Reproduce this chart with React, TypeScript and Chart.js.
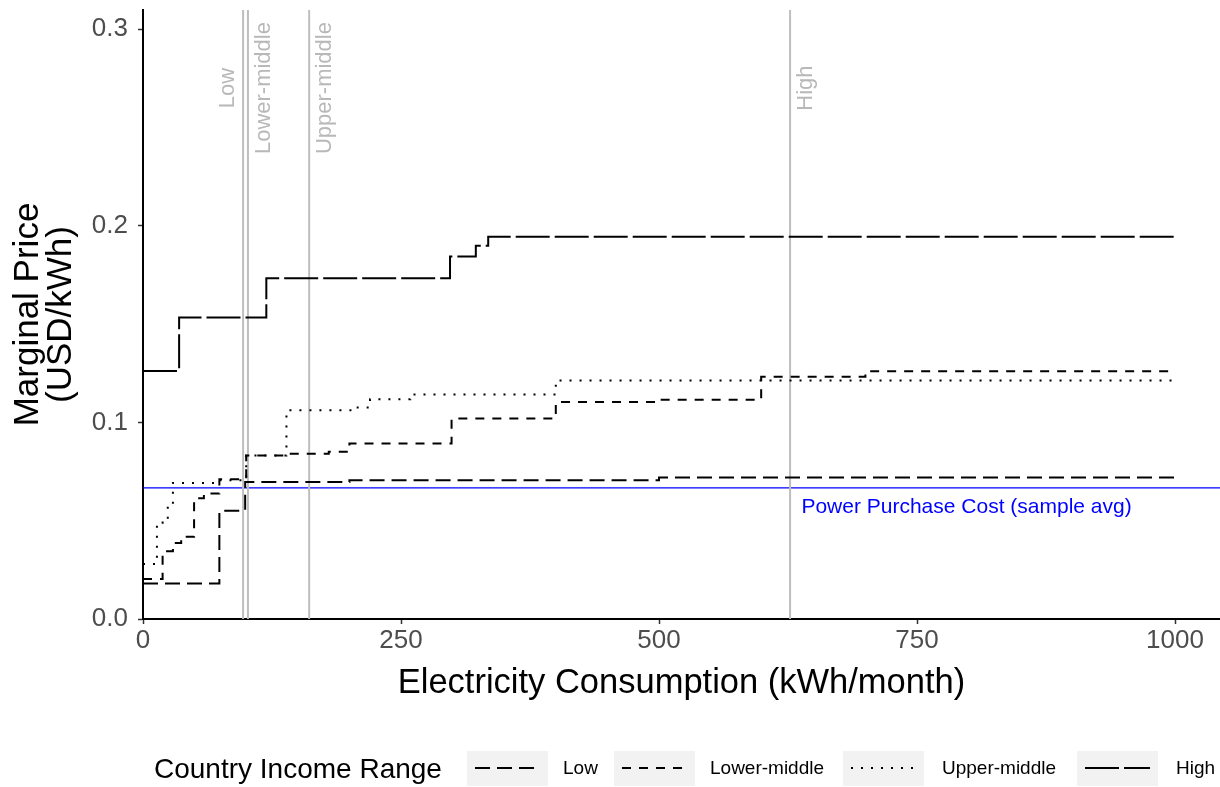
import React, { useEffect, useRef } from "react";
import { Chart, registerables } from "chart.js";

Chart.register(...registerables);

// ---- Data ----
const lowX = [0, 74, 99, 200, 500, 1000];
const lowY = [0.018, 0.055, 0.0697, 0.0706, 0.0719, 0.0719];

const lowerMidX = [0, 19, 29, 37, 49.5, 59, 74, 100, 140, 180, 200, 299, 400, 500, 599, 700, 1000];
const lowerMidY = [0.0203, 0.0345, 0.0387, 0.0418, 0.0614, 0.0638, 0.0711, 0.0832, 0.084, 0.085, 0.0892, 0.102, 0.1103, 0.1115, 0.1232, 0.126, 0.126];

const upperMidX = [0, 13.5, 19, 24, 29, 74, 100, 139, 207, 220, 259, 400, 1000];
const upperMidY = [0.028, 0.049, 0.0515, 0.0585, 0.0692, 0.0705, 0.0832, 0.1061, 0.1075, 0.1117, 0.1142, 0.1213, 0.1213];

const highX = [0, 35, 119.5, 297.5, 322.5, 334.5, 1000];
const highY = [0.1261, 0.1533, 0.1733, 0.1844, 0.1898, 0.1944, 0.1944];

const seriesLabels = ["Low", "Lower-middle", "Upper-middle", "High"];

const thresholdX = [97, 101.7, 161, 627];
const thresholdLabels = ["Low", "Lower-middle", "Upper-middle", "High"];
const thresholdLabelY = 0.27;

const ppcAvg = 0.0667;
const ppcLabel = "Power Purchase Cost (sample avg)";

const xTicks = [0, 250, 500, 750, 1000];
const yTicks = [0, 0.1, 0.2, 0.3];

const X_MIN = 0;
const X_MAX = 1043.6;
const Y_MIN = 0;
const Y_MAX = 0.3097;

const FONT = "'Liberation Sans', Arial, Helvetica, sans-serif";

export default function App() {
  const ref = useRef<HTMLCanvasElement | null>(null);

  useEffect(() => {
    document.body.style.margin = "0";
    const canvas = ref.current;
    if (!canvas) return;

    const toPts = (xs: number[], ys: number[]) => xs.map((x, i) => ({ x, y: ys[i] }));
    const dashes = [[15, 7], [9, 8], [2, 8], [34, 5]];
    const seriesData = [toPts(lowX, lowY), toPts(lowerMidX, lowerMidY), toPts(upperMidX, upperMidY), toPts(highX, highY)];

    const datasets: any[] = seriesData.map((d, i) => ({
      label: seriesLabels[i],
      data: d,
      borderColor: "#000000",
      borderWidth: 2,
      borderDash: dashes[i],
      borderCapStyle: "butt",
      stepped: "before",
      pointRadius: 0,
      fill: false,
    }));
    thresholdX.forEach((t) => {
      datasets.push({
        label: "thr",
        data: [{ x: t, y: Y_MIN }, { x: t, y: Y_MAX }],
        borderColor: "#bebebe",
        borderWidth: 2,
        pointRadius: 0,
        fill: false,
      });
    });
    datasets.push({
      label: "ppc",
      data: [{ x: X_MIN, y: ppcAvg }, { x: X_MAX, y: ppcAvg }],
      borderColor: "#0000ff",
      borderWidth: 1.3,
      pointRadius: 0,
      fill: false,
    });

    const overlay = {
      id: "overlay",
      afterDraw(chart: any) {
        const ctx = chart.ctx as CanvasRenderingContext2D;
        const xs = chart.scales.x;
        const ys = chart.scales.y;
        const area = chart.chartArea;
        ctx.save();

        // threshold labels
        ctx.fillStyle = "#b8b8b8";
        ctx.font = `22px ${FONT}`;
        ctx.textAlign = "center";
        ctx.textBaseline = "middle";
        thresholdX.forEach((t, i) => {
          const px = xs.getPixelForValue(t) + (i === 0 ? -15 : 16);
          const py = ys.getPixelForValue(thresholdLabelY);
          ctx.save();
          ctx.translate(px, py);
          ctx.rotate(-Math.PI / 2);
          ctx.fillText(thresholdLabels[i], 0, 0);
          ctx.restore();
        });

        // ppc label
        ctx.fillStyle = "#0000ff";
        ctx.font = `21px ${FONT}`;
        ctx.fillText(ppcLabel, xs.getPixelForValue(798), ys.getPixelForValue(ppcAvg) + 19);

        // axis titles
        ctx.fillStyle = "#000000";
        ctx.font = `34.5px ${FONT}`;
        ctx.fillText("Electricity Consumption (kWh/month)", (area.left + area.right) / 2, 683);
        const cy = (area.top + area.bottom) / 2;
        ctx.font = `35px ${FONT}`;
        ctx.save();
        ctx.translate(28, cy);
        ctx.rotate(-Math.PI / 2);
        ctx.fillText("Marginal Price", 0, 0);
        ctx.restore();
        ctx.save();
        ctx.translate(61, cy);
        ctx.rotate(-Math.PI / 2);
        ctx.fillText("(USD/kWh)", 0, 0);
        ctx.restore();

        // legend
        const ly = 768;
        ctx.textAlign = "left";
        ctx.font = `28px ${FONT}`;
        ctx.fillText("Country Income Range", 154, ly + 2);
        const boxX = [467, 614, 843, 1077];
        const textX = [563, 710, 942, 1176];
        ctx.font = `19px ${FONT}`;
        seriesLabels.forEach((lab, i) => {
          ctx.fillStyle = "#f2f2f2";
          ctx.fillRect(boxX[i], 751, 81, 35);
          ctx.strokeStyle = "#000000";
          ctx.lineWidth = 2;
          ctx.lineCap = "butt";
          ctx.setLineDash(dashes[i]);
          ctx.beginPath();
          ctx.moveTo(boxX[i] + 8, ly);
          ctx.lineTo(boxX[i] + 73, ly);
          ctx.stroke();
          ctx.setLineDash([]);
          ctx.fillStyle = "#000000";
          ctx.fillText(lab, textX[i], ly + 1);
        });

        ctx.restore();
      },
    };

    const chart = new Chart(canvas, {
      type: "line",
      data: { datasets },
      options: {
        animation: false,
        responsive: false,
        devicePixelRatio: 1,
        layout: { autoPadding: false, padding: { top: 10, right: 0, left: 0, bottom: 0 } },
        plugins: { legend: { display: false }, tooltip: { enabled: false } },
        scales: {
          x: {
            type: "linear",
            min: X_MIN,
            max: X_MAX,
            afterBuildTicks: (s: any) => {
              s.ticks = xTicks.map((v) => ({ value: v }));
            },
            afterFit: (s: any) => {
              s.height = 168;
              s.paddingLeft = 0;
              s.paddingRight = 0;
            },
            ticks: {
              color: "#4d4d4d",
              font: { family: FONT, size: 26 },
              padding: 1,
              maxRotation: 0,
              autoSkip: false,
              callback: (v: any) => String(v),
            },
            grid: { display: true, drawOnChartArea: false, drawTicks: true, tickLength: 5, tickColor: "#333333", tickWidth: 1.5 },
            border: { display: true, color: "#000000", width: 2 },
          },
          y: {
            type: "linear",
            min: Y_MIN,
            max: Y_MAX,
            afterBuildTicks: (s: any) => {
              s.ticks = yTicks.map((v) => ({ value: v }));
            },
            afterFit: (s: any) => {
              s.width = 143;
              s.paddingTop = 0;
              s.paddingBottom = 0;
            },
            ticks: {
              color: "#4d4d4d",
              font: { family: FONT, size: 26 },
              padding: 10,
              autoSkip: false,
              callback: (v: any) => Number(v).toFixed(1),
            },
            grid: { display: true, drawOnChartArea: false, drawTicks: true, tickLength: 5, tickColor: "#333333", tickWidth: 1.5 },
            border: { display: true, color: "#000000", width: 2 },
          },
        },
      } as any,
      plugins: [overlay],
    });

    return () => {
      chart.destroy();
    };
  }, []);

  return (
    <div style={{ width: 1220, height: 787, background: "#ffffff" }}>
      <canvas ref={ref} width={1220} height={787} style={{ display: "block", width: 1220, height: 787 }} />
    </div>
  );
}
